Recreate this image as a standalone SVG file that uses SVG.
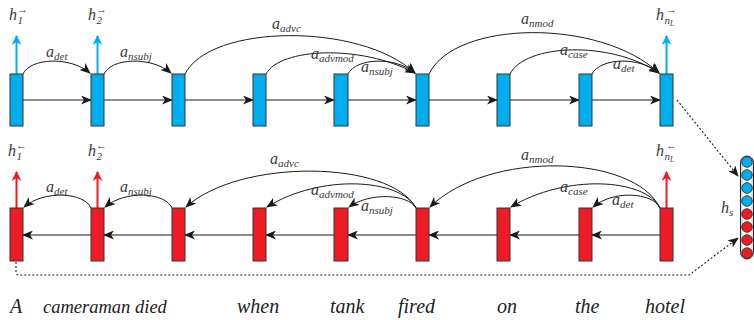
<svg xmlns="http://www.w3.org/2000/svg" width="754" height="320" viewBox="0 0 754 320">
<defs>
<marker id="ah" markerWidth="11" markerHeight="9" refX="10" refY="4.5" orient="auto" markerUnits="userSpaceOnUse">
<path d="M0,0 L11,4.5 L0,9 L3,4.5 Z" fill="#1a1a1a"/>
</marker>
<marker id="ab" markerWidth="10" markerHeight="10" refX="5" refY="1" orient="0" markerUnits="userSpaceOnUse">
<path d="M0,10 L5,0 L10,10 L5,7 Z" fill="#00AEEF"/>
</marker>
<marker id="ar" markerWidth="10" markerHeight="10" refX="5" refY="1" orient="0" markerUnits="userSpaceOnUse">
<path d="M0,10 L5,0 L10,10 L5,7 Z" fill="#ED1C24"/>
</marker>
<style>
.bb{fill:#00AEEF;stroke:#333;stroke-width:1}
.rb{fill:#ED1C24;stroke:#333;stroke-width:1}
.arc{fill:none;stroke:#1a1a1a;stroke-width:1;marker-end:url(#ah)}
.hf{fill:none;stroke:#1a1a1a;stroke-width:1;marker-end:url(#ah)}
.hb{fill:none;stroke:#666;stroke-width:1.5;marker-end:url(#ah)}
.up{stroke:#00AEEF;stroke-width:2;marker-end:url(#ab)}
.upr{stroke:#ED1C24;stroke-width:2;marker-end:url(#ar)}
.dot{fill:none;stroke:#1a1a1a;stroke-width:1.1;stroke-dasharray:2,2;marker-end:url(#ah)}
.lab{font-family:"Liberation Serif",serif;font-style:italic;font-size:16px;fill:#3a3a3a}
.sub{font-size:11px}
.word{font-family:"Liberation Serif",serif;font-style:italic;font-size:20px;fill:#222}
.wn{font-size:18.5px}
.cb{fill:#00AEEF;stroke:#222;stroke-width:0.8}
.cr{fill:#ED1C24;stroke:#222;stroke-width:0.8}
</style>
</defs>

<g id="connectors">
<path class="hf" d="M23,100 L91,100"/>
<path class="hf" d="M104,100 L172,100"/>
<path class="hf" d="M185,100 L253,100"/>
<path class="hf" d="M266,100 L334,100"/>
<path class="hf" d="M348,100 L416,100"/>
<path class="hf" d="M429,100 L497,100"/>
<path class="hf" d="M510,100 L579,100"/>
<path class="hf" d="M592,100 L660,100"/>
<path class="hb" d="M660,235 L592,235"/>
<path class="hb" d="M579,235 L510,235"/>
<path class="hb" d="M497,235 L429,235"/>
<path class="hb" d="M416,235 L348,235"/>
<path class="hb" d="M334,235 L266,235"/>
<path class="hb" d="M253,235 L185,235"/>
<path class="hb" d="M172,235 L104,235"/>
<path class="hb" d="M91,235 L23,235"/>
<line class="up" x1="16.5" y1="74" x2="16.5" y2="36"/>
<line class="up" x1="97.5" y1="74" x2="97.5" y2="36"/>
<line class="up" x1="666.5" y1="74" x2="666.5" y2="36"/>
<line class="upr" x1="16.5" y1="208" x2="16.5" y2="172"/>
<line class="upr" x1="97.5" y1="208" x2="97.5" y2="172"/>
<line class="upr" x1="666.5" y1="208" x2="666.5" y2="172"/>
<path class="arc" d="M23,74 C30,58 70,56 90,73"/>
<path class="arc" d="M104,74 C111,58 151,56 171,73"/>
<path class="arc" d="M185,74 C210,24 360,22 415,73"/>
<path class="arc" d="M266,74 C280,48 360,44 415,73"/>
<path class="arc" d="M348,74 C356,58 395,56 415,73"/>
<path class="arc" d="M429,74 C455,20 600,18 659,73"/>
<path class="arc" d="M510,74 C525,44 610,40 659,73"/>
<path class="arc" d="M592,74 C600,58 639,56 659,73"/>
<path class="arc" d="M91,208 C84,192 44,190 24,207"/>
<path class="arc" d="M172,208 C165,192 125,190 105,207"/>
<path class="arc" d="M416,208 C390,160 240,158 186,207"/>
<path class="arc" d="M416,208 C400,178 320,174 267,207"/>
<path class="arc" d="M416,208 C408,194 370,192 349,207"/>
<path class="arc" d="M660,208 C634,154 488,150 430,207"/>
<path class="arc" d="M660,208 C645,178 565,174 511,207"/>
<path class="arc" d="M660,208 C652,192 613,190 593,207"/>
<path class="dot" d="M677,100 L738,176"/>
<path class="dot" d="M16,262 L16,272 Q16,275 19,275 L688,275 Q691,275 693,272 L738,238"/>
</g>

<g id="forward-row">
<g id="f1"><rect class="bb" x="10" y="74" width="13" height="52"/></g>
<g id="f2"><rect class="bb" x="91" y="74" width="13" height="52"/></g>
<g id="f3"><rect class="bb" x="172" y="74" width="13" height="52"/></g>
<g id="f4"><rect class="bb" x="253" y="74" width="13" height="52"/></g>
<g id="f5"><rect class="bb" x="334" y="74" width="14" height="52"/></g>
<g id="f6"><rect class="bb" x="416" y="74" width="13" height="52"/></g>
<g id="f7"><rect class="bb" x="497" y="74" width="13" height="52"/></g>
<g id="f8"><rect class="bb" x="579" y="74" width="13" height="52"/></g>
<g id="f9"><rect class="bb" x="660" y="74" width="13" height="52"/></g>
</g>

<g id="backward-row">
<g id="b1"><rect class="rb" x="10" y="208" width="13" height="53"/></g>
<g id="b2"><rect class="rb" x="91" y="208" width="13" height="53"/></g>
<g id="b3"><rect class="rb" x="172" y="208" width="13" height="53"/></g>
<g id="b4"><rect class="rb" x="253" y="208" width="13" height="53"/></g>
<g id="b5"><rect class="rb" x="334" y="208" width="14" height="53"/></g>
<g id="b6"><rect class="rb" x="416" y="208" width="13" height="53"/></g>
<g id="b7"><rect class="rb" x="497" y="208" width="13" height="53"/></g>
<g id="b8"><rect class="rb" x="579" y="208" width="13" height="53"/></g>
<g id="b9"><rect class="rb" x="660" y="208" width="13" height="53"/></g>
</g>

<g id="hs">
<rect x="740.5" y="156" width="13" height="103" rx="6.5" fill="#fff" stroke="#222" stroke-width="1"/>
<rect x="742" y="157.5" width="10" height="100" rx="5" fill="none" stroke="#999" stroke-width="0.6"/>
<circle class="cb" cx="747" cy="162" r="5.3"/>
<circle class="cb" cx="747" cy="175" r="5.3"/>
<circle class="cb" cx="747" cy="188" r="5.3"/>
<circle class="cb" cx="747" cy="201" r="5.3"/>
<circle class="cr" cx="747" cy="214" r="5.3"/>
<circle class="cr" cx="747" cy="227" r="5.3"/>
<circle class="cr" cx="747" cy="240" r="5.3"/>
<circle class="cr" cx="747" cy="253" r="5.3"/>
<text class="lab" x="721" y="213">h<tspan class="sub" dy="3">s</tspan></text>
</g>

<g id="labels">
<text class="lab" x="9" y="20">h</text><text class="lab sub" x="17.5" y="24">1</text><text class="lab sub" x="17" y="13">→</text>
<text class="lab" x="88" y="20">h</text><text class="lab sub" x="96.5" y="24">2</text><text class="lab sub" x="96" y="13">→</text>
<text class="lab" x="656" y="20">h</text><text class="lab sub" x="664.5" y="24">n<tspan font-size="7.5" dy="2">L</tspan></text><text class="lab sub" x="666" y="13">→</text>
<text class="lab" x="8" y="156">h</text><text class="lab sub" x="16.5" y="160">1</text><text class="lab sub" x="16" y="149">←</text>
<text class="lab" x="88" y="156">h</text><text class="lab sub" x="96.5" y="160">2</text><text class="lab sub" x="96" y="149">←</text>
<text class="lab" x="656" y="156">h</text><text class="lab sub" x="664.5" y="160">n<tspan font-size="7.5" dy="2">L</tspan></text><text class="lab sub" x="666" y="149">←</text>

<text class="lab" x="46" y="57">a<tspan class="sub" dy="3">det</tspan></text>
<text class="lab" x="120" y="57">a<tspan class="sub" dy="3">nsubj</tspan></text>
<text class="lab" x="272" y="29">a<tspan class="sub" dy="3">advc</tspan></text>
<text class="lab" x="311" y="59">a<tspan class="sub" dy="3">advmod</tspan></text>
<text class="lab" x="361" y="72">a<tspan class="sub" dy="3">nsubj</tspan></text>
<text class="lab" x="521" y="24">a<tspan class="sub" dy="3">nmod</tspan></text>
<text class="lab" x="560" y="55">a<tspan class="sub" dy="3">case</tspan></text>
<text class="lab" x="613" y="69">a<tspan class="sub" dy="3">det</tspan></text>

<text class="lab" x="46" y="192">a<tspan class="sub" dy="3">det</tspan></text>
<text class="lab" x="120" y="192">a<tspan class="sub" dy="3">nsubj</tspan></text>
<text class="lab" x="270" y="164">a<tspan class="sub" dy="3">advc</tspan></text>
<text class="lab" x="311" y="195">a<tspan class="sub" dy="3">advmod</tspan></text>
<text class="lab" x="361" y="211">a<tspan class="sub" dy="3">nsubj</tspan></text>
<text class="lab" x="521" y="160">a<tspan class="sub" dy="3">nmod</tspan></text>
<text class="lab" x="560" y="192">a<tspan class="sub" dy="3">case</tspan></text>
<text class="lab" x="612" y="205">a<tspan class="sub" dy="3">det</tspan></text>
</g>

<g id="words">
<text class="word" x="10" y="313">A</text>
<text class="word wn" x="43" y="313">cameraman</text>
<text class="word wn" x="135" y="313">died</text>
<text class="word" x="237" y="313">when</text>
<text class="word" x="330" y="313">tank</text>
<text class="word" x="398" y="313">fired</text>
<text class="word" x="497" y="313">on</text>
<text class="word" x="575" y="313">the</text>
<text class="word" x="645" y="313">hotel</text>
</g>
</svg>
